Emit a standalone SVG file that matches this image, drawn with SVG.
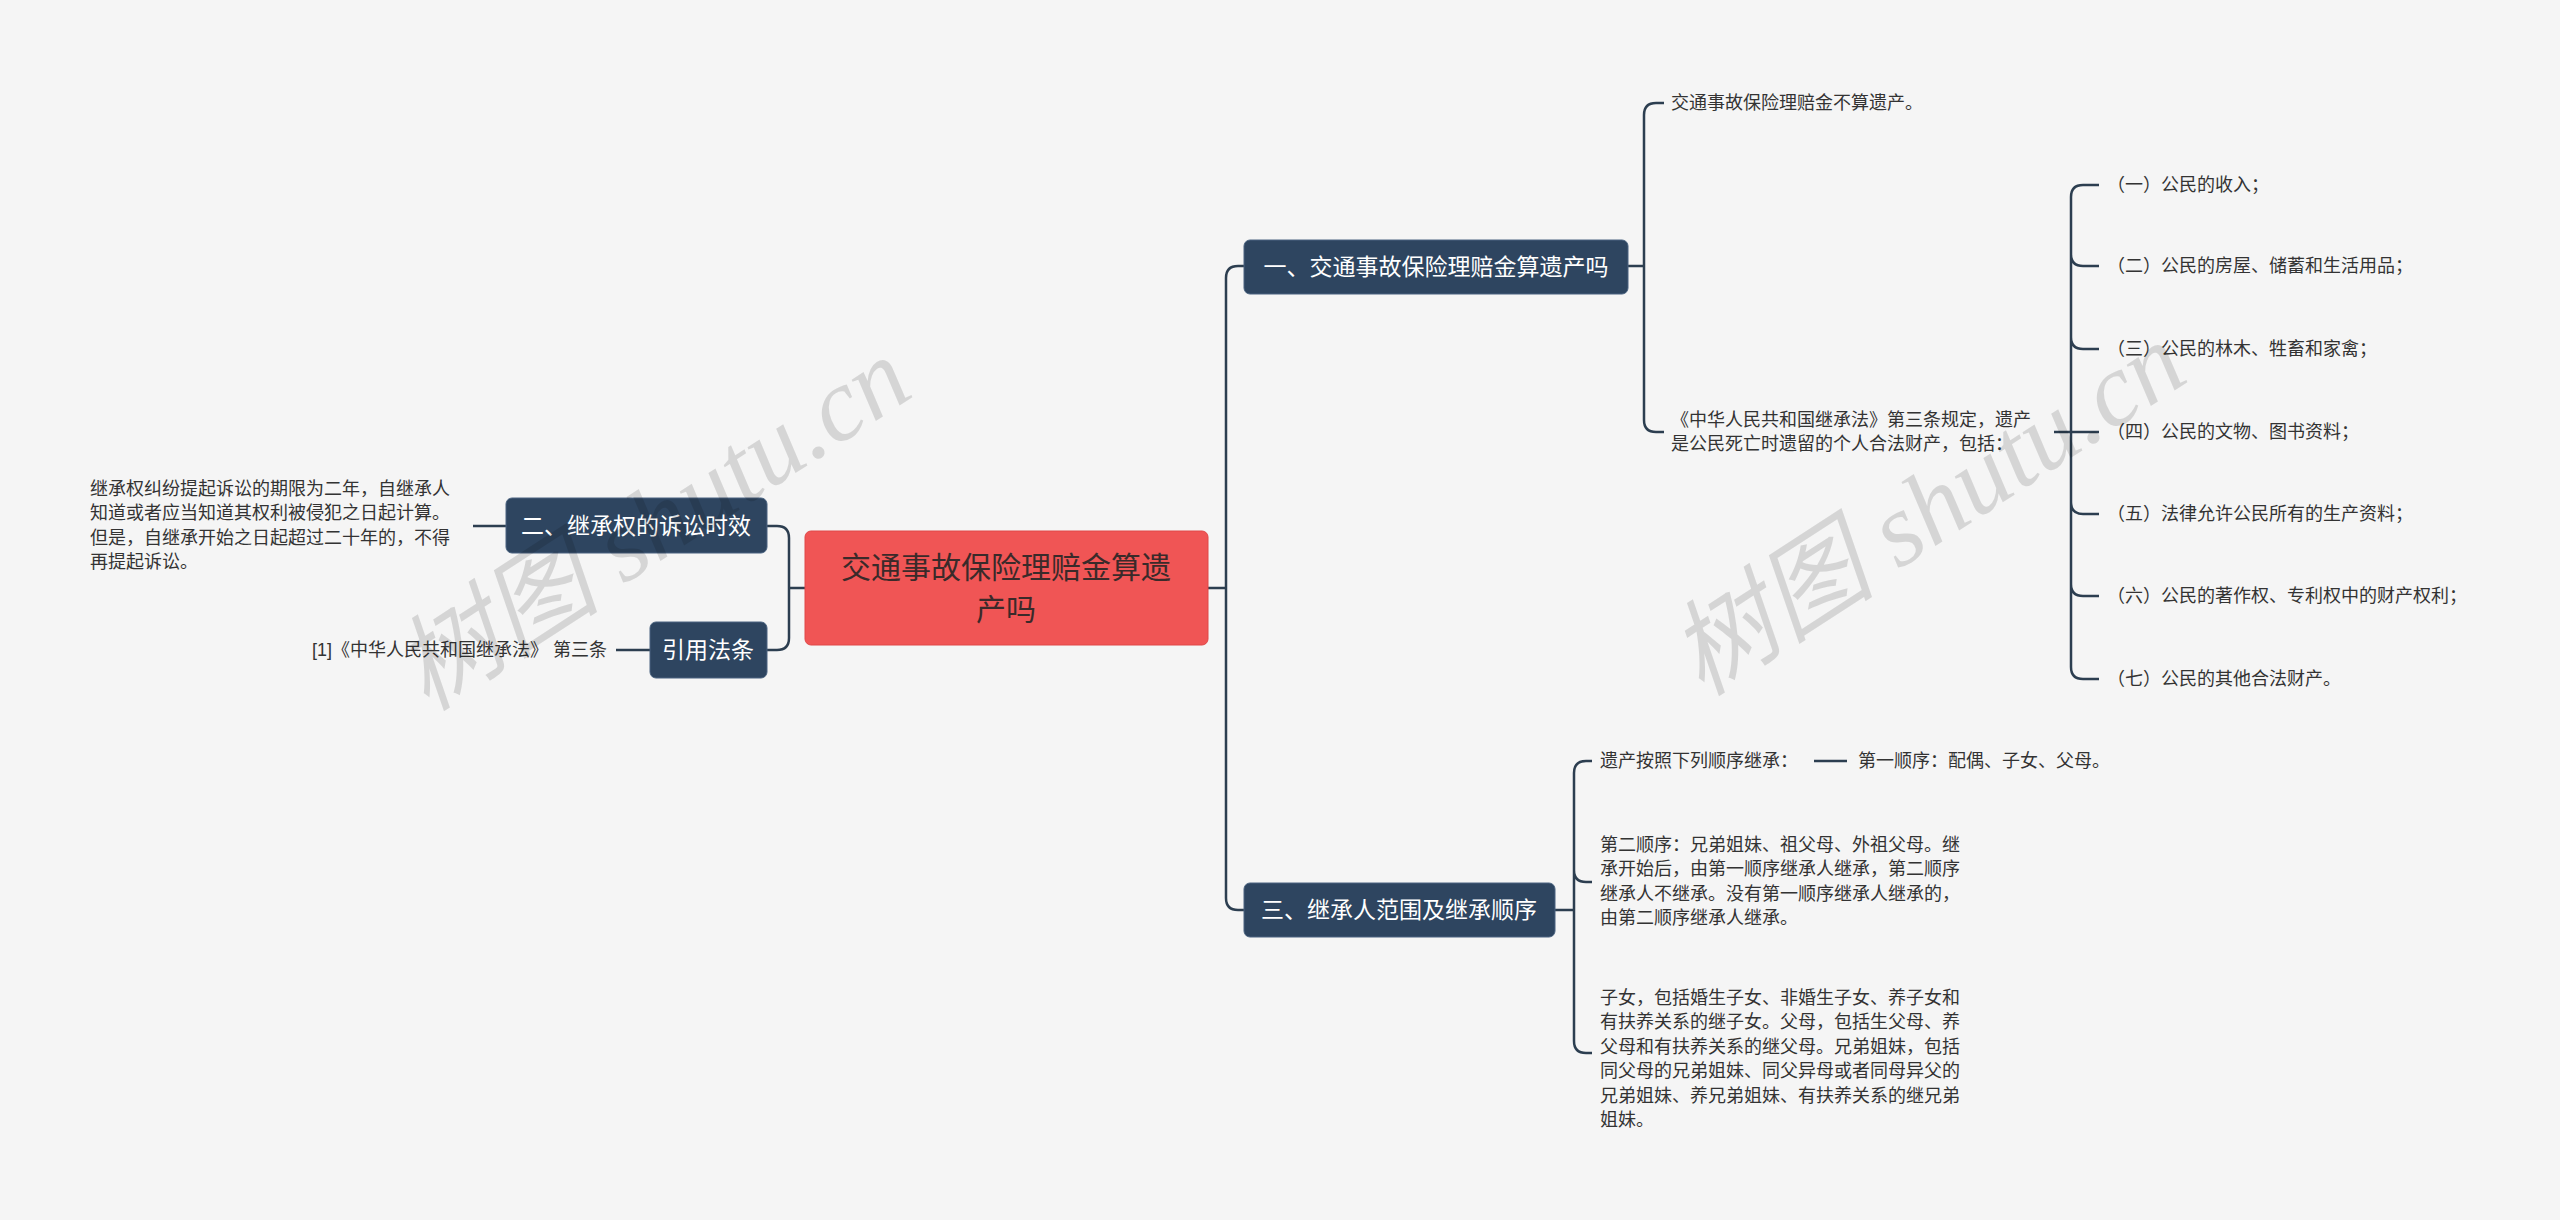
<svg xmlns="http://www.w3.org/2000/svg" width="2560" height="1220" viewBox="0 0 2560 1220">
<style>
.bg{fill:#f5f5f5}
.c{fill:none;stroke:#2c3e50;stroke-width:2.5}
.br{fill:#2e4560;stroke:#4a6380;stroke-width:1}
.bt{font-family:"Liberation Sans","Noto Sans CJK SC",sans-serif;font-size:23px;fill:#ffffff}
.t{font-family:"Liberation Sans","Noto Sans CJK SC",sans-serif;font-size:18px;fill:#333333}
.wm{font-family:"Liberation Serif","Noto Sans CJK SC",serif;font-size:104px;fill:#000;fill-opacity:0.13;font-style:italic}
</style>
<rect class="bg" width="2560" height="1220"/>
<g id="connectors">
<path class="c" d="M1208 588 H1226 M1226 588 V278 Q1226 266 1238 266 H1244 M1226 588 V898 Q1226 910 1238 910 H1244"/>
<path class="c" d="M805 588 H789 V538 Q789 526 777 526 H767 M789 588 V638 Q789 650 777 650 H767"/>
<path class="c" d="M1628 266 H1644 V115 Q1644 103 1656 103 H1664 M1644 266 V420 Q1644 432 1656 432 H1664"/>
<path class="c" d="M2054 432 H2071 M2071 432 V197 Q2071 185 2083 185 H2099 M2071 266 V278 M2071 254 Q2071 266 2083 266 H2099 M2071 337 Q2071 349 2083 349 H2099 M2071 432 H2099 M2071 502 Q2071 514 2083 514 H2099 M2071 584 Q2071 596 2083 596 H2099 M2071 432 V667 Q2071 679 2083 679 H2099"/>
<path class="c" d="M1555 910 H1574 M1574 910 V773 Q1574 761 1586 761 H1592 M1574 910 V870 Q1574 882 1586 882 H1592 M1574 910 V1041 Q1574 1053 1586 1053 H1592"/>
<path class="c" d="M1814 761 H1847"/>
<path class="c" d="M473 526 H506 M616 650 H650"/>
</g>
<g id="root">
<rect x="805" y="531" width="403" height="114" rx="6" fill="#f05555" stroke="#e04848"/>
<text x="1006" y="578" text-anchor="middle" font-family="Liberation Sans,Noto Sans CJK SC,sans-serif" font-size="30" fill="#3a2a2a">交通事故保险理赔金算遗</text>
<text x="1006" y="620" text-anchor="middle" font-family="Liberation Sans,Noto Sans CJK SC,sans-serif" font-size="30" fill="#3a2a2a">产吗</text>
</g>
<g id="b1"><rect class="br" x="1244" y="240" width="384" height="54" rx="6"/><text class="bt" x="1436" y="275" text-anchor="middle">一、交通事故保险理赔金算遗产吗</text></g>
<g id="b3"><rect class="br" x="1244" y="883" width="311" height="54" rx="6"/><text class="bt" x="1399" y="918" text-anchor="middle">三、继承人范围及继承顺序</text></g>
<g id="b2"><rect class="br" x="506" y="498" width="261" height="55" rx="6"/><text class="bt" x="636" y="534" text-anchor="middle">二、继承权的诉讼时效</text></g>
<g id="b4"><rect class="br" x="650" y="622" width="117" height="56" rx="6"/><text class="bt" x="708" y="658" text-anchor="middle">引用法条</text></g>
<g id="n2a" class="t"><text x="90" y="495">继承权纠纷提起诉讼的期限为二年，自继承人</text><text x="90" y="519">知道或者应当知道其权利被侵犯之日起计算。</text><text x="90" y="544">但是，自继承开始之日起超过二十年的，不得</text><text x="90" y="568">再提起诉讼。</text></g>
<g id="n4a"><text class="t" x="607" y="656" text-anchor="end">[1]《中华人民共和国继承法》 第三条</text></g>
<g id="n1a"><text class="t" x="1671" y="109">交通事故保险理赔金不算遗产。</text></g>
<g id="n1b" class="t"><text x="1671" y="426">《中华人民共和国继承法》第三条规定，遗产</text><text x="1671" y="450">是公民死亡时遗留的个人合法财产，包括：</text></g>
<g id="l1" class="t"><text x="2107" y="191">（一）公民的收入；</text></g>
<g id="l2" class="t"><text x="2107" y="272">（二）公民的房屋、储蓄和生活用品；</text></g>
<g id="l3" class="t"><text x="2107" y="355">（三）公民的林木、牲畜和家禽；</text></g>
<g id="l4" class="t"><text x="2107" y="438">（四）公民的文物、图书资料；</text></g>
<g id="l5" class="t"><text x="2107" y="520">（五）法律允许公民所有的生产资料；</text></g>
<g id="l6" class="t"><text x="2107" y="602">（六）公民的著作权、专利权中的财产权利；</text></g>
<g id="l7" class="t"><text x="2107" y="685">（七）公民的其他合法财产。</text></g>
<g id="n3a"><text class="t" x="1600" y="767">遗产按照下列顺序继承：</text></g>
<g id="n3a1"><text class="t" x="1858" y="767">第一顺序：配偶、子女、父母。</text></g>
<g id="n3b" class="t"><text x="1600" y="851">第二顺序：兄弟姐妹、祖父母、外祖父母。继</text><text x="1600" y="875">承开始后，由第一顺序继承人继承，第二顺序</text><text x="1600" y="900">继承人不继承。没有第一顺序继承人继承的，</text><text x="1600" y="924">由第二顺序继承人继承。</text></g>
<g id="n3c" class="t"><text x="1600" y="1004">子女，包括婚生子女、非婚生子女、养子女和</text><text x="1600" y="1028">有扶养关系的继子女。父母，包括生父母、养</text><text x="1600" y="1053">父母和有扶养关系的继父母。兄弟姐妹，包括</text><text x="1600" y="1077">同父母的兄弟姐妹、同父异母或者同母异父的</text><text x="1600" y="1102">兄弟姐妹、养兄弟姐妹、有扶养关系的继兄弟</text><text x="1600" y="1126">姐妹。</text></g>
<g id="watermark">
<text class="wm" x="650" y="560" text-anchor="middle" transform="rotate(-33 650 520)">树图 shutu.cn</text>
<text class="wm" x="1925" y="545" text-anchor="middle" transform="rotate(-33 1925 505)">树图 shutu.cn</text>
</g>
</svg>
